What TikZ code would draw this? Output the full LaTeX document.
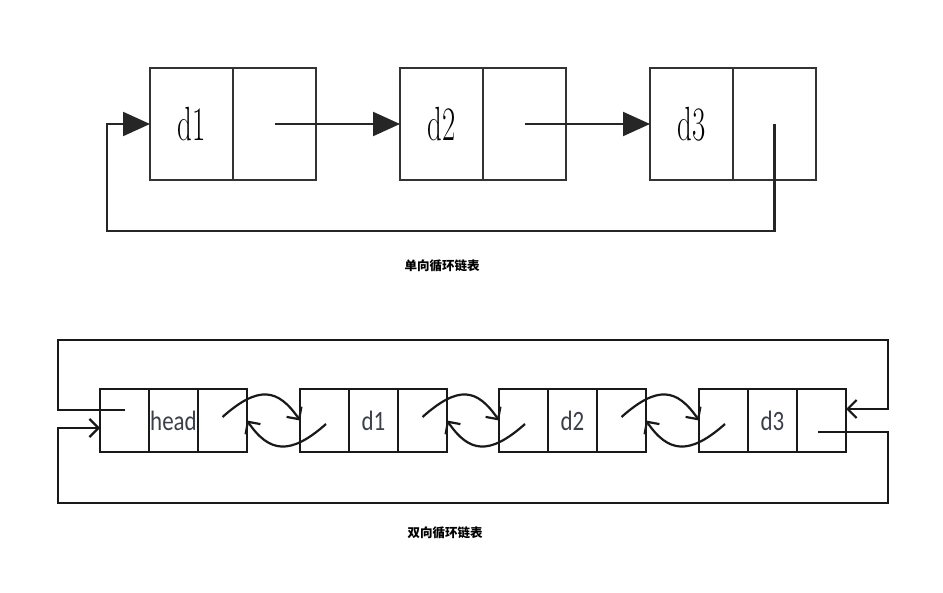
\documentclass[tikz,border=0pt]{standalone}
\usepackage{fontspec}
\newfontfamily\cjk{Noto Sans CJK SC}
\newfontfamily\calib{Carlito}
\usetikzlibrary{arrows.meta,positioning,calc}
\definecolor{boxgray}{HTML}{333333}
\definecolor{textgray}{HTML}{3A3F4A}
\tikzset{
  >={Straight Barb[length=9pt,width=18pt]},
  % enkel lista
  sc/.style={rectangle,draw=boxgray,line width=2.4pt,inner sep=0pt,outer sep=0pt,
             minimum width=83pt,minimum height=112pt,font=\fontsize{48}{48}\selectfont},
  sa/.style={-{Triangle[length=27pt,width=24pt]},draw=black!85,line width=2.2pt},
  % dubbel lista
  dc/.style={rectangle,draw=black!90,line width=2.2pt,inner sep=0pt,outer sep=0pt,
             minimum width=49pt,minimum height=63pt,font=\calib\fontsize{28}{28}\selectfont,
             text=textgray},
  dl/.style={->,draw=black!90,line width=2.2pt},
  capt/.style={font=\cjk\bfseries\fontsize{12.5}{12.5}\selectfont},
}
\begin{document}
\begin{tikzpicture}[x=1pt,y=-1pt]
\useasboundingbox (0,0) rectangle (943,593);
  % enkel
  \foreach \i/\x in {1/191.5,2/441.5,3/691.5}{
    \node[sc] (d\i) at (\x,124) {\scalebox{0.6}[1]{d\i}};
    \node[sc,right=0pt of d\i] (p\i) {};
  }
  \draw[sa] (p1.center) -- (d2.west);
  \draw[sa] (p2.center) -- (d3.west);
  \coordinate (lb) at (107,231);
  \draw[sa] (p3.center) |- (lb) |- (d1.west);
  \node[capt] (t1) at (442,266) {单向循环链表};
  % dubbel
  \foreach \i/\x/\t in {0/124.5/head,1/324.5/d1,2/523.5/d2,3/723.5/d3}{
    \node[dc] (L\i) at (\x,420.5) {};
    \node[dc,right=0pt of L\i] (D\i) {\scalebox{0.82}[1]{\t}};
    \node[dc,right=0pt of D\i] (R\i) {};
  }
  \foreach \i/\j in {0/1,1/2,2/3}{
    \draw[dl] ([yshift=3.5pt]R\i.center) .. controls +(36,-32) and +(-22,-32) .. (L\j.west);
    \draw[dl] ([xshift=1.5pt,yshift=-3.5pt]L\j.center) .. controls +(-36,32) and +(22,32) .. (R\i.east);
  }
  \coordinate (ul) at (58,340);
  \coordinate (ur) at (888,340);
  \coordinate (bl) at (58,503);
  \coordinate (br) at (888,503);
  \draw[dl] ([xshift=0.5pt,yshift=10.5pt]L0.center) -| (ul) -- (ur) |- ([yshift=11.5pt]R3.east);
  \draw[dl] ([xshift=-3.5pt,yshift=-11.5pt]R3.center) -| (br) -- (bl) |- ([yshift=-7.5pt]L0.west);
  \node[capt] (t2) at (445,533) {双向循环链表};
\end{tikzpicture}
\end{document}
